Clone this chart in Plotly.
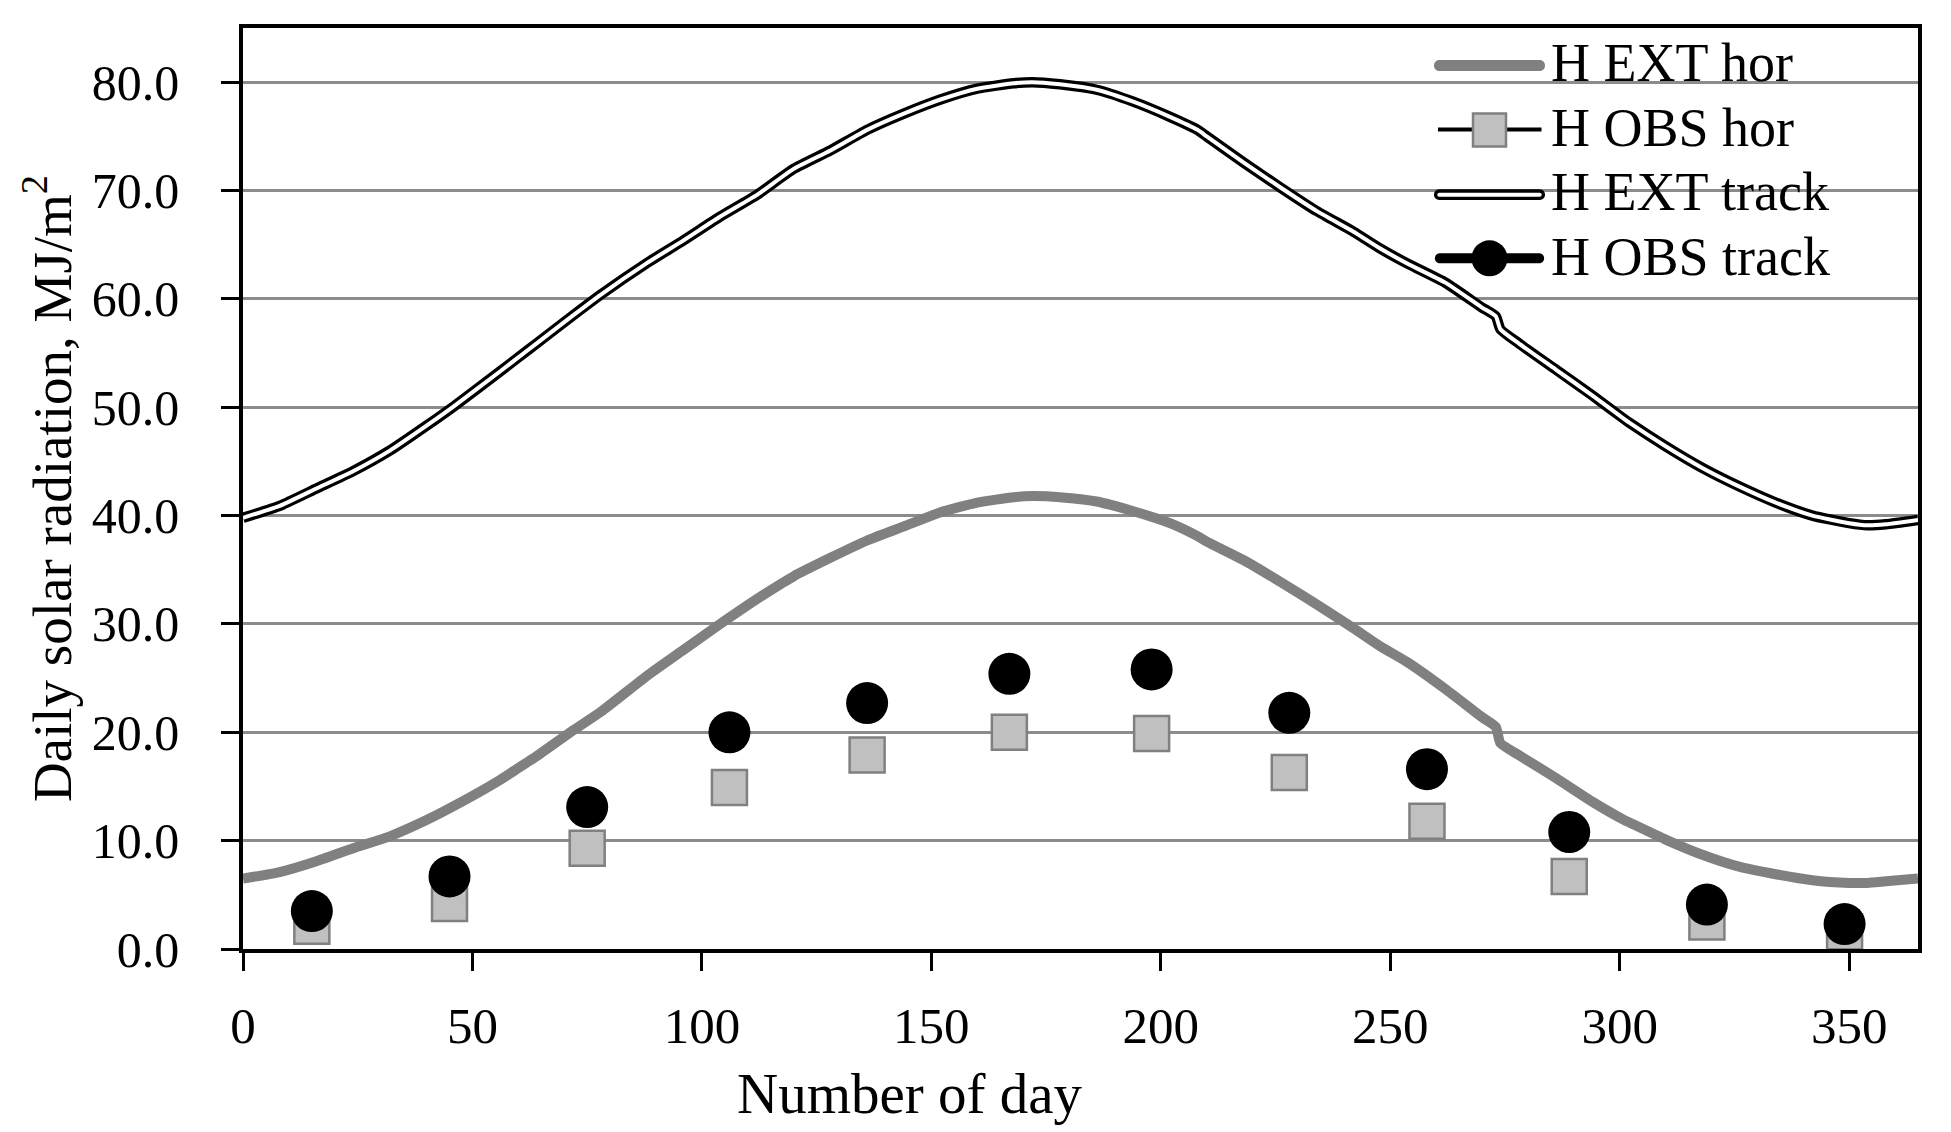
import plotly.graph_objects as go

# ---------------- data ----------------
ext_days = [0, 8, 16, 24, 32, 40, 46, 56, 60, 64, 72, 78, 88, 96, 104, 112, 120, 128,
            136, 144, 152, 160, 168, 172, 178, 186, 194, 202, 208, 210, 218, 226, 234,
            242, 248, 254, 262, 270, 273, 274, 278, 286, 294, 301, 302, 310, 318, 326,
            334, 342, 350, 354, 358, 365]
ext_track = [39.8, 40.9, 42.5, 44.1, 46.0, 48.3, 50.1, 53.3, 54.6, 55.9, 58.5, 60.4, 63.3,
             65.4, 67.6, 69.6, 72.0, 73.7, 75.6, 77.1, 78.4, 79.4, 79.9, 80.0, 79.8, 79.3,
             78.2, 76.8, 75.6, 75.0, 72.6, 70.3, 68.1, 66.2, 64.6, 63.2, 61.5, 59.2, 58.4,
             57.2, 55.9, 53.5, 51.1, 48.9, 48.6, 46.4, 44.4, 42.7, 41.2, 40.0, 39.3, 39.1,
             39.2, 39.6]
ext_hor = [6.5, 7.1, 8.1, 9.3, 10.4, 11.9, 13.2, 15.6, 16.7, 17.8, 20.2, 21.9, 25.2, 27.6,
           30.0, 32.3, 34.4, 36.1, 37.7, 39.0, 40.3, 41.2, 41.7, 41.8, 41.7, 41.3, 40.4,
           39.3, 38.1, 37.6, 35.9, 33.9, 31.8, 29.6, 27.9, 26.4, 24.0, 21.4, 20.5, 19.0,
           17.9, 15.8, 13.6, 11.9, 11.7, 10.1, 8.7, 7.6, 6.9, 6.35, 6.1, 6.1, 6.25, 6.5]

obs_days = [15, 45, 75, 106, 136, 167, 198, 228, 258, 289, 319, 349]
obs_hor = [2.1, 4.2, 9.3, 14.9, 17.9, 20.0, 19.9, 16.3, 11.8, 6.7, 2.5, 1.6]
obs_track = [3.5, 6.7, 13.1, 20.0, 22.7, 25.4, 25.8, 21.8, 16.6, 10.8, 4.1, 2.3]

x_ticks = [0, 50, 100, 150, 200, 250, 300, 350]
y_ticks = [0, 10, 20, 30, 40, 50, 60, 70, 80]
series_names = ["H EXT hor", "H OBS hor", "H EXT track", "H OBS track"]
x_title = "Number of day"
y_title = "Daily solar radiation, MJ/m<sup>2</sup>"

# ---------------- layout geometry ----------------
FONT = "Liberation Serif"
W, H = 1951, 1132
ML, MR, MT, MB = 243, 33, 28, 183
PW = W - ML - MR
PH = H - MT - MB

GRAY = "#808080"
LIGHT = "#c0c0c0"


def px(xp):
    return (xp - ML) / PW


def py(yp):
    return (MT + PH - yp) / PH


fig = go.Figure()

fig.add_trace(go.Scatter(x=ext_days, y=ext_hor, mode="lines", name=series_names[0],
                         line=dict(color=GRAY, width=10, shape="spline", smoothing=0.5),
                         showlegend=False))
fig.add_trace(go.Scatter(x=obs_days, y=obs_hor, mode="markers", name=series_names[1],
                         marker=dict(symbol="square", size=35, color=LIGHT,
                                     line=dict(color=GRAY, width=2.5)),
                         showlegend=False))
fig.add_trace(go.Scatter(x=ext_days, y=ext_track, mode="lines", name=series_names[2],
                         line=dict(color="black", width=10.5, shape="spline", smoothing=0.5),
                         showlegend=False))
fig.add_trace(go.Scatter(x=ext_days, y=ext_track, mode="lines", name=series_names[2],
                         line=dict(color="white", width=4, shape="spline", smoothing=0.5),
                         showlegend=False, hoverinfo="skip"))
fig.add_trace(go.Scatter(x=obs_days, y=obs_track, mode="markers", name=series_names[3],
                         marker=dict(symbol="circle", size=42, color="black"),
                         showlegend=False))


# ---------------- hand-drawn legend (matches the original glyphs) ----------------
def stadium(a, r):
    k = 1.3333 * r
    return (f"M {-a},{r} L {a},{r} C {a + k},{r} {a + k},{-r} {a},{-r} "
            f"L {-a},{-r} C {-a - k},{-r} {-a - k},{r} {-a},{r} Z")


LCX = 1489.5
shapes = []
# entry 1: thick grey line
shapes.append(dict(type="path", xref="paper", yref="paper", xsizemode="pixel",
                   ysizemode="pixel", xanchor=px(LCX), yanchor=py(65.5),
                   path=stadium(50, 5.5), fillcolor=GRAY, line=dict(width=0),
                   layer="above"))
# entry 2: thin black line + grey square
shapes.append(dict(type="line", xref="paper", yref="paper", x0=px(1438), x1=px(1541.5),
                   y0=py(129.5), y1=py(129.5), line=dict(color="black", width=4),
                   layer="above"))
shapes.append(dict(type="rect", xref="paper", yref="paper", xsizemode="pixel",
                   ysizemode="pixel", xanchor=px(LCX), yanchor=py(130),
                   x0=-16.5, x1=16.5, y0=-16.5, y1=16.5, fillcolor=LIGHT,
                   line=dict(color=GRAY, width=2.5), layer="above"))
# entry 3: double line
shapes.append(dict(type="path", xref="paper", yref="paper", xsizemode="pixel",
                   ysizemode="pixel", xanchor=px(LCX), yanchor=py(194.7),
                   path=stadium(50.2, 3.7), fillcolor="white",
                   line=dict(color="black", width=3.3), layer="above"))
# entry 4: thick black line + black circle
shapes.append(dict(type="path", xref="paper", yref="paper", xsizemode="pixel",
                   ysizemode="pixel", xanchor=px(LCX), yanchor=py(258.3),
                   path=stadium(49.6, 5), fillcolor="black", line=dict(width=0),
                   layer="above"))
shapes.append(dict(type="circle", xref="paper", yref="paper", xsizemode="pixel",
                   ysizemode="pixel", xanchor=px(LCX), yanchor=py(258.3),
                   x0=-18, x1=18, y0=-18, y1=18, fillcolor="black",
                   line=dict(width=0), layer="above"))

annotations = []
for name, yc in zip(series_names, [62.7, 128, 192, 256.7]):
    annotations.append(dict(text=name, xref="paper", yref="paper", x=px(1549), y=py(yc),
                            xanchor="left", yanchor="middle", showarrow=False,
                            font=dict(family=FONT, size=54, color="black")))
# x-axis title (placed left of centre, as in the original)
annotations.append(dict(text=x_title, xref="paper", yref="paper", x=px(910), y=py(1093),
                        xanchor="center", yanchor="middle", showarrow=False,
                        font=dict(family=FONT, size=57, color="black")))

fig.update_layout(
    width=W, height=H,
    margin=dict(l=ML, r=MR, t=MT, b=MB, pad=0),
    paper_bgcolor="white", plot_bgcolor="white",
    font=dict(family=FONT, color="black"),
    showlegend=False,
    shapes=shapes,
    annotations=annotations,
)

fig.update_xaxes(range=[0, 365], tickmode="array", tickvals=x_ticks,
                 ticktext=[str(v) for v in x_ticks],
                 ticks="outside", ticklen=18, tickwidth=2.5, tickcolor="black",
                 showline=True, linecolor="black", linewidth=3.5, mirror=True,
                 showgrid=False, zeroline=False, ticklabelstandoff=11,
                 tickfont=dict(family=FONT, size=51, color="black"))
fig.update_yaxes(range=[0, 85], tickmode="array", tickvals=y_ticks,
                 ticktext=[f"{v:.1f}" for v in y_ticks],
                 ticks="outside", ticklen=18, tickwidth=2.5, tickcolor="black",
                 showline=True, linecolor="black", linewidth=3.5, mirror=True,
                 showgrid=True, gridcolor="#8c8c8c", gridwidth=2.5, zeroline=False,
                 ticklabelstandoff=32,
                 tickfont=dict(family=FONT, size=50, color="black"),
                 title=dict(text=y_title, standoff=4,
                            font=dict(family=FONT, size=55, color="black")))

fig.write_html("out.html", config={"displayModeBar": False},
               post_script="document.body.style.margin='0';")
